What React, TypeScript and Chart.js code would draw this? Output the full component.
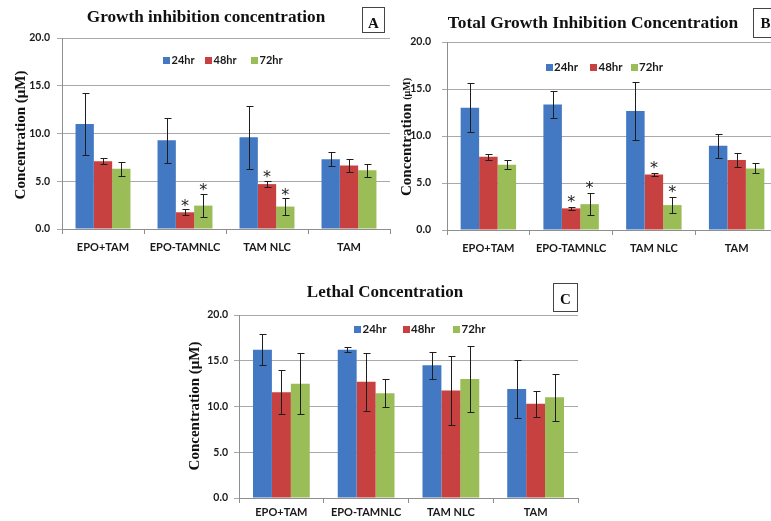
import React, { useEffect, useRef } from "react";
import { Chart, registerables } from "chart.js";

Chart.register(...registerables);

const categories = ["EPO+TAM", "EPO-TAMNLC", "TAM NLC", "TAM"];
const seriesLabels = ["24hr", "48hr", "72hr"];
const seriesColors = ["#4379C2", "#C6413F", "#9BBD57"];
const yTickValues = [0, 5, 10, 15, 20];

// A: growth inhibition concentration (µM), mean ± error
const giMean24 = [11.0, 9.3, 9.6, 7.3];
const giMean48 = [7.1, 1.75, 4.7, 6.65];
const giMean72 = [6.3, 2.45, 2.35, 6.15];
const giErr24 = [3.25, 2.35, 3.3, 0.75];
const giErr48 = [0.3, 0.3, 0.3, 0.65];
const giErr72 = [0.75, 1.2, 0.85, 0.7];
const giStar24 = [false, false, false, false];
const giStar48 = [false, true, true, false];
const giStar72 = [false, true, true, false];

// B: total growth inhibition concentration (µM)
const tgiMean24 = [13.0, 13.35, 12.65, 8.95];
const tgiMean48 = [7.8, 2.3, 5.9, 7.45];
const tgiMean72 = [6.95, 2.75, 2.65, 6.55];
const tgiErr24 = [2.6, 1.45, 3.1, 1.25];
const tgiErr48 = [0.3, 0.18, 0.2, 0.7];
const tgiErr72 = [0.48, 1.15, 0.88, 0.53];
const tgiStar24 = [false, false, false, false];
const tgiStar48 = [false, true, true, false];
const tgiStar72 = [false, true, true, false];

// C: lethal concentration (µM)
const lcMean24 = [16.2, 16.2, 14.5, 11.9];
const lcMean48 = [11.55, 12.7, 11.75, 10.3];
const lcMean72 = [12.5, 11.45, 13.0, 11.0];
const lcErr24 = [1.7, 0.25, 1.5, 3.15];
const lcErr48 = [2.4, 3.2, 3.75, 1.42];
const lcErr72 = [3.35, 1.55, 3.6, 2.6];
const lcStar24 = [false, false, false, false];
const lcStar48 = [false, false, false, false];
const lcStar72 = [false, false, false, false];

const SERIF = "'Liberation Serif', 'Times New Roman', serif";
const SANS = "Lato, 'Open Sans', sans-serif";

type Panel = {
  title: string;
  letter: string;
  means: number[][];
  errs: number[][];
  stars: boolean[][];
  // canvas box on the page
  box: { left: number; top: number; width: number; height: number };
  // plot area in page coordinates
  area: { left: number; right: number; top: number; bottom: number };
  titlePos: { x: number; y: number; size: number };
  letterBox: { x: number; y: number; w: number; h: number; baseline: number };
  yTitle: { x: number; y: number; size: number; unitSize: number };
  legend: { y: number; xs: number[]; size: number };
  xPad: number;
  yPad: number;
  starGap: number;
};

const panels: Panel[] = [
  {
    title: "Growth inhibition concentration",
    letter: "A",
    means: [giMean24, giMean48, giMean72],
    errs: [giErr24, giErr48, giErr72],
    stars: [giStar24, giStar48, giStar72],
    box: { left: 0, top: 0, width: 392, height: 262 },
    area: { left: 62, right: 390, top: 38, bottom: 229 },
    titlePos: { x: 206, y: 21.5, size: 17.2 },
    letterBox: { x: 362, y: 7, w: 22, h: 25, baseline: 27.5 },
    yTitle: { x: 21.5, y: 135, size: 15, unitSize: 15 },
    legend: { y: 60, xs: [163, 205, 251], size: 11 },
    xPad: 7,
    yPad: 7,
    starGap: 8,
  },
  {
    title: "Total Growth Inhibition Concentration",
    letter: "B",
    means: [tgiMean24, tgiMean48, tgiMean72],
    errs: [tgiErr24, tgiErr48, tgiErr72],
    stars: [tgiStar24, tgiStar48, tgiStar72],
    box: { left: 380, top: 0, width: 400, height: 262 },
    area: { left: 447, right: 778, top: 42, bottom: 230 },
    titlePos: { x: 593, y: 28, size: 17.4 },
    letterBox: { x: 753, y: 8, w: 24, h: 29, baseline: 28.3 },
    yTitle: { x: 407, y: 137, size: 15, unitSize: 10 },
    legend: { y: 67, xs: [545.5, 590, 630.5], size: 11.5 },
    xPad: 7,
    yPad: 11,
    starGap: 9,
  },
  {
    title: "Lethal Concentration",
    letter: "C",
    means: [lcMean24, lcMean48, lcMean72],
    errs: [lcErr24, lcErr48, lcErr72],
    stars: [lcStar24, lcStar48, lcStar72],
    box: { left: 180, top: 270, width: 410, height: 251 },
    area: { left: 239, right: 578, top: 315, bottom: 498 },
    titlePos: { x: 385, y: 296.5, size: 17 },
    letterBox: { x: 553, y: 283, w: 24, h: 28, baseline: 304 },
    yTitle: { x: 195, y: 406, size: 15, unitSize: 15 },
    legend: { y: 329, xs: [354, 402.5, 453], size: 11.5 },
    xPad: 3,
    yPad: 6,
    starGap: 8,
  },
];

function makeDecor(p: Panel) {
  const ox = p.box.left;
  const oy = p.box.top;
  return {
    id: "panelDecor",
    afterDatasetsDraw(chart: any) {
      const { ctx } = chart;
      const y = chart.scales.y;
      ctx.save();
      ctx.strokeStyle = "#1e1e1e";
      ctx.lineWidth = 1;
      p.means.forEach((arr, si) => {
        const meta = chart.getDatasetMeta(si);
        arr.forEach((m, ci) => {
          const bar = meta.data[ci];
          const e = p.errs[si][ci];
          const x = Math.round(bar.x) + 0.5;
          const yt = Math.round(y.getPixelForValue(m + e)) + 0.5;
          const yb = Math.round(y.getPixelForValue(m - e)) + 0.5;
          ctx.beginPath();
          ctx.moveTo(x, yt);
          ctx.lineTo(x, yb);
          ctx.moveTo(x - 3, yt);
          ctx.lineTo(x + 4, yt);
          ctx.moveTo(x - 3, yb);
          ctx.lineTo(x + 4, yb);
          ctx.stroke();
          if (p.stars[si][ci]) {
            const size = 16;
            ctx.fillStyle = "#222";
            ctx.font = `${size}px 'DejaVu Sans', sans-serif`;
            ctx.textAlign = "center";
            ctx.textBaseline = "alphabetic";
            const cy = y.getPixelForValue(m + e) - p.starGap;
            ctx.fillText("*", bar.x, cy + size * 0.57);
          }
        });
      });
      ctx.restore();
    },
    afterDraw(chart: any) {
      const { ctx } = chart;
      ctx.save();
      // chart heading
      ctx.fillStyle = "#111";
      ctx.font = `bold ${p.titlePos.size}px ${SERIF}`;
      ctx.textAlign = "center";
      ctx.textBaseline = "alphabetic";
      ctx.fillText(p.title, p.titlePos.x - ox, p.titlePos.y - oy);

      // panel letter in a box
      const lb = p.letterBox;
      ctx.strokeStyle = "#444";
      ctx.lineWidth = 1;
      ctx.strokeRect(Math.round(lb.x - ox) + 0.5, Math.round(lb.y - oy) + 0.5, lb.w, lb.h);
      ctx.font = `bold 15px ${SERIF}`;
      ctx.fillText(p.letter, lb.x - ox + lb.w / 2 + 0.5, lb.baseline - oy);

      // y-axis title
      ctx.save();
      ctx.translate(p.yTitle.x - ox, p.yTitle.y - oy);
      ctx.rotate(-Math.PI / 2);
      const mainFont = `bold ${p.yTitle.size}px ${SERIF}`;
      const unitFont = `bold ${p.yTitle.unitSize}px ${SERIF}`;
      const main = "Concentration ";
      const unit = "(μM)";
      ctx.font = mainFont;
      const w1 = ctx.measureText(main).width;
      ctx.font = unitFont;
      const w2 = ctx.measureText(unit).width;
      const start = -(w1 + w2) / 2;
      ctx.textAlign = "left";
      ctx.textBaseline = "middle";
      ctx.font = mainFont;
      ctx.fillText(main, start, 0);
      ctx.font = unitFont;
      ctx.fillText(unit, start + w1, 0);
      ctx.restore();

      // legend
      ctx.font = `bold ${p.legend.size}px ${SANS}`;
      ctx.textAlign = "left";
      ctx.textBaseline = "middle";
      seriesLabels.forEach((label, i) => {
        const sx = p.legend.xs[i] - ox;
        const sy = p.legend.y - oy;
        ctx.fillStyle = seriesColors[i];
        ctx.fillRect(Math.round(sx), Math.round(sy - 3.5), 7, 7);
        ctx.fillStyle = "#1a1a1a";
        ctx.fillText(label, sx + 8.5, sy + 0.5);
      });
      ctx.restore();
    },
  };
}

function PanelChart({ p }: { p: Panel }) {
  const ref = useRef<HTMLCanvasElement | null>(null);
  useEffect(() => {
    const canvas = ref.current;
    if (!canvas) return;
    const a = {
      left: p.area.left - p.box.left,
      right: p.area.right - p.box.left,
      top: p.area.top - p.box.top,
      bottom: p.area.bottom - p.box.top,
    };
    const chart = new Chart(canvas, {
      type: "bar",
      data: {
        labels: categories,
        datasets: p.means.map((values, i) => ({
          label: seriesLabels[i],
          data: values,
          backgroundColor: seriesColors[i],
          borderWidth: 0,
          categoryPercentage: 0.67,
          barPercentage: 1.0,
        })),
      },
      options: {
        animation: false,
        responsive: false,
        devicePixelRatio: 1,
        layout: {
          autoPadding: false,
          padding: { top: a.top, left: 0, right: p.box.width - a.right, bottom: 0 },
        },
        plugins: {
          legend: { display: false },
          title: { display: false },
          tooltip: { enabled: false },
        },
        scales: {
          x: {
            grid: {
              drawOnChartArea: false,
              tickLength: 5,
              color: "#8e8e8e",
              offset: true,
            },
            border: { color: "#8e8e8e" },
            ticks: {
              color: "#1a1a1a",
              font: { family: SANS, size: 11, weight: "bold" },
              padding: p.xPad,
              maxRotation: 0,
              autoSkip: false,
            },
            afterFit: (s: any) => {
              s.height = p.box.height - a.bottom;
            },
          },
          y: {
            min: 0,
            max: 20,
            afterBuildTicks: (s: any) => {
              s.ticks = yTickValues.map((v) => ({ value: v }));
            },
            ticks: {
              color: "#1a1a1a",
              font: { family: SANS, size: 10.5, weight: "bold" },
              padding: p.yPad,
              callback: (v: any) => Number(v).toFixed(1),
            },
            grid: { color: "#a9a9a9", tickLength: 5 },
            border: { color: "#8e8e8e" },
            afterFit: (s: any) => {
              s.width = a.left;
            },
          },
        },
      } as any,
      plugins: [makeDecor(p)],
    });
    return () => chart.destroy();
  }, [p]);
  return (
    <canvas
      ref={ref}
      width={p.box.width}
      height={p.box.height}
      style={{
        position: "absolute",
        left: p.box.left,
        top: p.box.top,
        width: p.box.width,
        height: p.box.height,
      }}
    />
  );
}

export default function App() {
  return (
    <div
      style={{
        position: "fixed",
        left: 0,
        top: 0,
        width: 771,
        height: 521,
        overflow: "hidden",
        background: "#ffffff",
      }}
    >
      {panels.map((p) => (
        <PanelChart key={p.letter} p={p} />
      ))}
    </div>
  );
}
